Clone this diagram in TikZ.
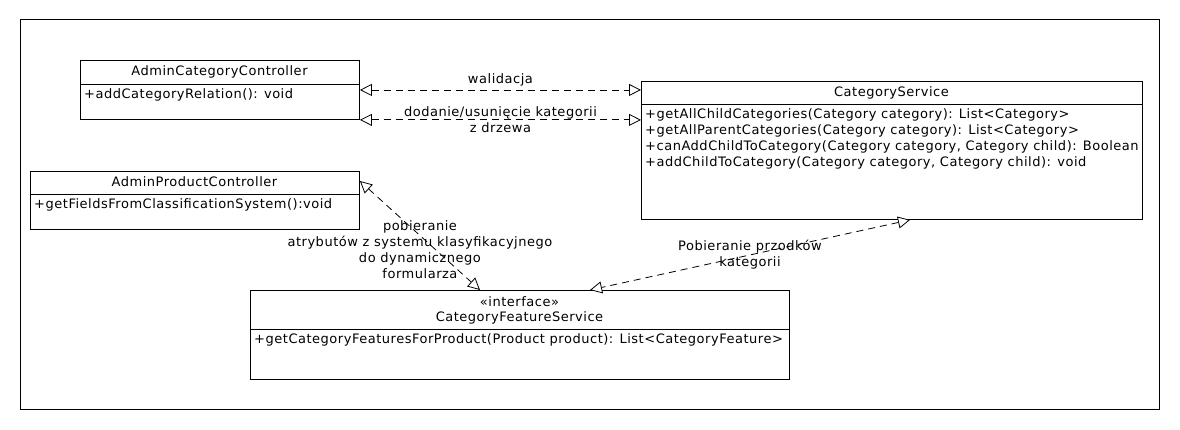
\documentclass[tikz,border=0pt]{standalone}
\usepackage{fontspec}
\setmainfont{DejaVu Sans}[LetterSpace=4]
\usetikzlibrary{arrows.meta,calc}
\begin{document}
\begin{tikzpicture}[x=1pt,y=-1pt,
  every node/.style={font=\fontsize{13}{16}\selectfont, inner sep=0pt},
  classbox/.style={draw, line width=0.9pt, anchor=north west, minimum width=#1},
  title/.style={anchor=center},
  member/.style={anchor=west},
  dep/.style={draw, line width=0.8pt, dash pattern=on 7pt off 5pt,
    {Triangle[open,length=12pt,width=12pt,fill=white]}-{Triangle[open,length=12pt,width=12pt,fill=white]}},
  lbl/.style={align=center}]
\useasboundingbox (0,0) rectangle (1180,430);
\fill[white] (0,0) rectangle (1180,430);
% outer frame
\draw[line width=1pt] (20,20) rectangle (1159,409);

% AdminCategoryController
\node[classbox=279pt, minimum height=59pt] (acc) at (80,60) {};
\node[title] (acct) at (219.5,72) {AdminCategoryController};
\draw[line width=0.9pt] (acc.west |- 0,84) -- (acc.east |- 0,84);
\node[member] (accm) at (84,95) {+addCategoryRelation(): void};

% AdminProductController
\node[classbox=329pt, minimum height=58pt] (apc) at (30,171) {};
\node[title] (apct) at (194.5,182) {AdminProductController};
\draw[line width=0.9pt] (apc.west |- 0,194) -- (apc.east |- 0,194);
\node[member] (apcm) at (34,205) {+getFieldsFromClassificationSystem():void};

% CategoryService
\node[classbox=501pt, minimum height=138pt] (cs) at (641,81) {};
\node[title] (cst) at (891.5,93) {CategoryService};
\draw[line width=0.9pt] (cs.west |- 0,104) -- (cs.east |- 0,104);
\node[member] (csm1) at (645,115) {+getAllChildCategories(Category category): List<Category>};
\node[member] (csm2) at (645,131) {+getAllParentCategories(Category category): List<Category>};
\node[member] (csm3) at (645,147) {+canAddChildToCategory(Category category, Category child): Boolean};
\node[member] (csm4) at (645,163) {+addChildToCategory(Category category, Category child): void};

% CategoryFeatureService
\node[classbox=539pt, minimum height=89pt] (cfs) at (250,290) {};
\node[title] (cfst1) at (519.5,302) {«interface»};
\node[title] (cfst2) at (519.5,318) {CategoryFeatureService};
\draw[line width=0.9pt] (cfs.west |- 0,329) -- (cfs.east |- 0,329);
\node[member] (cfsm) at (254,340) {+getCategoryFeaturesForProduct(Product product): List<CategoryFeature>};

% dependencies
\draw[dep] (acc.east) -- node[above=3pt] {walidacja} (acc.east -| cs.west);
\draw[dep] (acc.south east) -- node[lbl] {dodanie/usunięcie kategorii\\z drzewa} (acc.south east -| cs.west);
\draw[dep] ($(apc.north east)+(0,10)$) -- node[lbl, yshift=-14pt] {pobieranie\\atrybutów z systemu klasyfikacyjnego\\do dynamicznego\\formularza} ($(cfs.north west)+(230,0)$);
\draw[dep] ($(cs.south west)+(269,0)$) -- node[lbl] {Pobieranie przodków\\kategorii} ($(cfs.north west)+(340,0)$);
\end{tikzpicture}
\end{document}
